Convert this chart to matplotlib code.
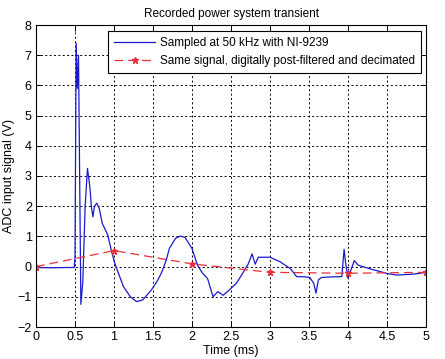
import matplotlib
matplotlib.use("Agg")
import matplotlib.pyplot as plt

plt.rcParams['font.family'] = ['Liberation Sans', 'DejaVu Sans']
plt.rcParams['font.size'] = 8.5

# Sampled signal (ms, V)
t_raw = [0.0, 0.2, 0.4, 0.49, 0.50, 0.515, 0.53, 0.545, 0.575, 0.60, 0.63, 0.66,
         0.69, 0.71, 0.73, 0.75, 0.78, 0.81, 0.85, 0.92, 0.97, 1.01, 1.05, 1.12,
         1.21, 1.29, 1.37, 1.48, 1.55, 1.61, 1.67, 1.71, 1.79, 1.85, 1.91, 2.00,
         2.07, 2.13, 2.20, 2.27, 2.33, 2.40, 2.50, 2.57, 2.65, 2.72, 2.77, 2.81,
         2.85, 2.90, 3.00, 3.13, 3.22, 3.26, 3.34, 3.45, 3.51, 3.56, 3.59, 3.62,
         3.66, 3.80, 3.92, 3.95, 3.97, 4.00, 4.03, 4.08, 4.13, 4.19, 4.32, 4.49,
         4.62, 4.84, 5.0]
v_raw = [-0.03, -0.04, -0.03, -0.03, 0.3, 7.4, 5.9, 7.0, -1.25, -0.5, 2.0, 3.25,
         2.65, 1.98, 1.65, 2.0, 2.1, 1.93, 1.43, 1.05, 0.49, 0.11, -0.17, -0.66,
         -1.0, -1.16, -1.1, -0.77, -0.5, -0.2, 0.22, 0.6, 0.94, 1.01, 0.97, 0.6,
         0.05, -0.2, -0.4, -1.0, -0.83, -0.95, -0.72, -0.55, -0.22, 0.08, 0.42, 0.08,
         0.31, 0.31, 0.31, 0.16, 0.0, -0.06, -0.33, -0.34, -0.36, -0.55, -0.88, -0.44,
         -0.36, -0.34, -0.33, 0.57, 0.11, -0.39, -0.17, 0.2, 0.05, 0.0, -0.1, -0.22,
         -0.28, -0.25, -0.19]

# Filtered and decimated signal
t_dec = [0, 1, 2, 3, 4, 5]
v_dec = [0.0, 0.53, 0.09, -0.19, -0.22, -0.19]

x_ticks = [0, 0.5, 1, 1.5, 2, 2.5, 3, 3.5, 4, 4.5, 5]
x_labels = ['0', '0.5', '1', '1.5', '2', '2.5', '3', '3.5', '4', '4.5', '5']
y_ticks = [-2, -1, 0, 1, 2, 3, 4, 5, 6, 7, 8]

fig = plt.figure(figsize=(4.45, 3.59), dpi=100)
ax = fig.add_axes([36/445, 32/359, 390/445, 302/359])

ax.plot(t_raw, v_raw, color='#1a1acc', lw=0.9, label='Sampled at 50 kHz with NI-9239')
ax.plot(t_dec, v_dec, color='#e8303a', lw=0.9, ls=(0, (7, 4)), marker='*', ms=5,
        label='Same signal, digitally post-filtered and decimated')

ax.set_xlim(0, 5)
ax.set_ylim(-2, 8)
ax.set_xticks(x_ticks)
ax.set_xticklabels(x_labels)
ax.set_yticks(y_ticks)
ax.grid(True, color='black', ls=(0, (2, 2.5)), lw=0.7)
ax.tick_params(direction='in', top=True, right=True, length=4, width=0.7, pad=3,
               labelsize=9)
for s in ax.spines.values():
    s.set_linewidth(0.8)

ax.set_title('Recorded power system transient', fontsize=8.5, pad=6)
ax.set_xlabel('Time (ms)', labelpad=1, fontsize=9)
ax.set_ylabel('ADC input signal (V)', labelpad=2, fontsize=9)

leg = ax.legend(loc='upper right', bbox_to_anchor=(421/445, 328/359),
                bbox_transform=fig.transFigure, fancybox=False, framealpha=1,
                edgecolor='black', handlelength=3.5, borderpad=0.5,
                labelspacing=0.5, handletextpad=0.4, borderaxespad=0)
leg.get_frame().set_linewidth(0.8)

fig.savefig('out.png', dpi=100)
